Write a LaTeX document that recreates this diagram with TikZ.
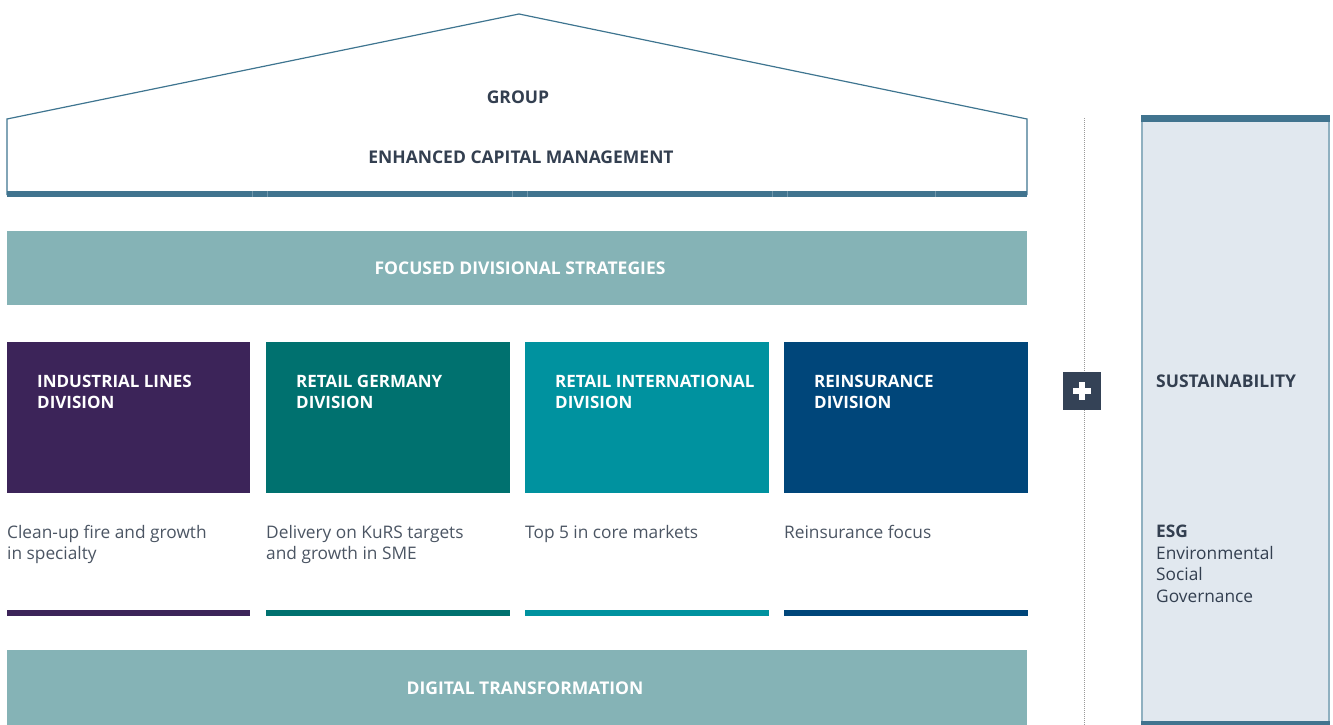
\documentclass[tikz,border=0pt]{standalone}
\usepackage{fontspec}
\setmainfont{Open Sans}
\definecolor{roofline}{HTML}{3F7590}
\definecolor{barblue}{HTML}{41748F}
\definecolor{sage}{HTML}{85B3B6}
\definecolor{darktext}{HTML}{333F50}
\definecolor{graytext}{HTML}{4B5563}
\definecolor{cpurple}{HTML}{3C2459}
\definecolor{cteal}{HTML}{00716F}
\definecolor{ccyan}{HTML}{00929F}
\definecolor{cnavy}{HTML}{00467A}
\definecolor{plusbg}{HTML}{344256}
\definecolor{sustfill}{HTML}{E1E8EF}
\definecolor{sustborder}{HTML}{8FB0C0}
\tikzset{
  headtext/.style={font=\fontsize{17.5}{21}\selectfont\bfseries, text=darktext},
  bandtext/.style={font=\fontsize{17.5}{21}\selectfont\bfseries, text=white},
  divtitle/.style={font=\fontsize{17}{21}\selectfont\bfseries, text=white, anchor=north west, align=left, inner sep=0pt},
  desc/.style={font=\fontsize{17.3}{21.5}\selectfont, text=graytext, anchor=north west, align=left, inner sep=0pt},
}
\begin{document}
\begin{tikzpicture}[x=1pt,y=-1pt]
\useasboundingbox (0,0) rectangle (1333,725);
% house roof
\draw[roofline, line width=1.2pt, line join=miter] (7,195) -- (7,119) -- (519,14) -- (1027,119) -- (1027,195);
\fill[barblue] (7,191) rectangle (1027,197);
\foreach \x in {252,267,512,527,772,787,935}
  \draw[white, opacity=0.25, line width=0.6pt] (\x,191) -- (\x,197);
\node[headtext] (group) at (518,97) {GROUP};
\node[headtext] (ecm) at (521,157) {ENHANCED CAPITAL MANAGEMENT};
% focused strategies band
\fill[sage] (7,231) rectangle (1027,305);
\node[bandtext] (fds) at (520,268) {FOCUSED DIVISIONAL STRATEGIES};
% divisions
\fill[cpurple] (7,342) rectangle (250,493);
\fill[cteal] (266,342) rectangle (510,493);
\fill[ccyan] (525,342) rectangle (769,493);
\fill[cnavy] (784,342) rectangle (1028,493);
\node[divtitle] (d1) at (37,374.5) {INDUSTRIAL LINES\\DIVISION};
\node[divtitle] (d2) at (296,374.5) {RETAIL GERMANY\\DIVISION};
\node[divtitle] (d3) at (555,374.5) {RETAIL INTERNATIONAL\\DIVISION};
\node[divtitle] (d4) at (814,374.5) {REINSURANCE\\DIVISION};
% descriptions
\node[desc] (t1) at (7,525) {Clean-up fire and growth\\in specialty};
\node[desc] (t2) at (266,525) {Delivery on KuRS targets\\and growth in SME};
\node[desc] (t3) at (525,525) {Top 5 in core markets};
\node[desc] (t4) at (784,525) {Reinsurance focus};
% colored bars
\fill[cpurple] (7,610) rectangle (250,616);
\fill[cteal] (266,610) rectangle (510,616);
\fill[ccyan] (525,610) rectangle (769,616);
\fill[cnavy] (784,610) rectangle (1028,616);
% digital transformation
\fill[sage] (7,650) rectangle (1027,725);
\node[bandtext] (dt) at (525,688) {DIGITAL TRANSFORMATION};
% dotted separator
\draw[gray!80, line width=0.8pt, dash pattern=on 1pt off 1pt] (1084,118) -- (1084,725);
% plus
\node[fill=plusbg, minimum width=38pt, minimum height=38pt, inner sep=0pt] (plus) at (1082,391) {};
\fill[white] (1073,388) rectangle (1091,394);
\fill[white] (1079,382) rectangle (1085,400);
% sustainability
\draw[sustborder, fill=sustfill, line width=1.5pt] (1142,116) rectangle (1329,722);
\fill[barblue] (1141,115) rectangle (1330,122);
\fill[barblue] (1141,721) rectangle (1330,725);
\node[headtext, anchor=west, inner sep=0pt] (sust) at (1156,381) {SUSTAINABILITY};
\node[desc, text=darktext] (esg) at (1156,525) {\textbf{ESG}\\Environmental\\Social\\Governance};
\end{tikzpicture}
\end{document}
